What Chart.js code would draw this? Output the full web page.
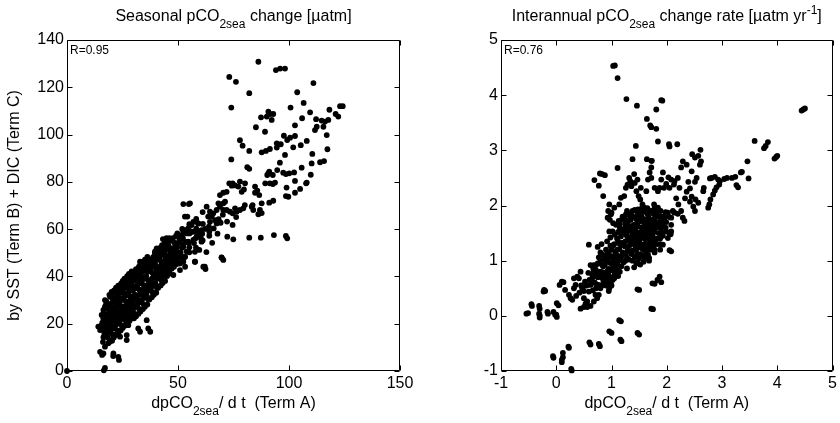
<!DOCTYPE html>
<html><head><meta charset="utf-8">
<script src="https://cdn.jsdelivr.net/npm/chart.js@4.4.1/dist/chart.umd.min.js"></script>
<style>
html,body{margin:0;padding:0;background:#fff;}
#wrap{position:relative;width:840px;height:423px;overflow:hidden;}
.c{position:absolute;top:0;width:420px;height:423px;}
</style></head><body>
<div id="wrap">
<div class="c" style="left:0"><canvas id="c1"></canvas></div>
<div class="c" style="left:420px"><canvas id="c2"></canvas></div>
</div>
<script>
// ---------- tick labels ----------
const seasonalXTicks = [0, 50, 100, 150];
const seasonalYTicks = [0, 20, 40, 60, 80, 100, 120, 140];
const interannualXTicks = [-1, 0, 1, 2, 3, 4, 5];
const interannualYTicks = [-1, 0, 1, 2, 3, 4, 5];

// ---------- texts ----------
const seasonalTitle = [["Seasonal pCO",""],["2sea","sub"],[" change [\u00b5atm]",""]];
const interannualTitle = [["Interannual pCO",""],["2sea","sub"],[" change rate [\u00b5atm yr",""],["-1","sup"],["]",""]];
const xAxisTitle = [["dpCO",""],["2sea","sub"],["/ d t  (Term A)",""]];
const seasonalYTitle = "by SST (Term B) + DIC (Term C)";
const seasonalR = "R=0.95";
const interannualR = "R=0.76";

// ---------- seasonal data [Term A, Term B + C] ----------
const seasonalPts = [
[86.2,130.8],[94.1,127.3],[96,127.9],[98.2,127.9],[73.1,124.4],[76.1,122.3],[111,121.8],[82.1,117.5],[103.7,117.9],[106.6,113.4],
[74,111.4],[100.7,111.4],[109.5,109.4],[118.2,110.5],[123,112],[124.2,112],[121,108.7],[122.2,107.6],[90.7,109.7],[91.4,108.7],
[92.9,108.7],[90,107.6],[92.2,106.2],[87.4,107.3],[105.9,106.9],[112.2,106.5],[114.7,105.9],[116.2,105.5],[117.7,106.2],[115.5,103.3],
[112.5,103.3],[111.7,101.9],[117,99.8],[85.1,103.1],[102.7,103.9],[89.2,101.2],[97.7,99.5],[100.5,98.7],[102.7,99.4],[99.2,97.7],
[77.9,97.6],[79.1,95.3],[82.1,93.1],[87.7,92.5],[89.6,93.1],[91.4,93.9],[94.5,94.5],[96.3,95.9],[94.5,96.3],[101.9,94.6],
[105.3,95.5],[108,97.3],[98.2,91.4],[110.5,91.8],[117.3,93.8],[74,89.5],[114,88.3],[115.8,88.8],[81.2,86.2],[82.1,85.5],
[95.9,88.1],[90.7,83.6],[90.2,82.9],[92.7,82.9],[91.1,84.3],[94.7,85],[93.7,79.7],[92.7,79.1],[91.4,79.4],[97.4,83.9],
[98.6,83.3],[100.1,83.6],[102.3,84],[105.7,86],[108,79.7],[109.8,83],[110.2,87.8],[89.3,79.4],[98.9,77.6],[98.6,74],
[99.7,73.7],[102.7,80.4],[105,77],[102.7,75.4],[107.7,79.4],[84.7,78],[84.7,75.4],[85.7,76.3],[86.6,74.4],[91.1,71.2],
[92.9,72],[87.7,70.9],[80.2,79.4],[77.9,80.1],[77.2,78],[74.6,79.4],[75.7,78.5],[78.7,75.8],[79.7,76.8],[73.1,79.4],
[74.2,78.4],[71.9,75.8],[70.4,75.4],[68.9,74.4],[83.2,69.5],[83.9,68.1],[86.2,66.3],[86.9,68.1],[87.7,66.8],[83.6,70.2],
[74.6,66.7],[73.4,67.4],[75.7,68.8],[77.9,68.1],[79.4,68.8],[76.4,67.4],[71.9,68.1],[70.4,68.1],[68.2,70.9],[68.9,69.5],
[70.4,70.9],[71.2,71.6],[67.4,68.1],[62.9,69.5],[64.4,67.4],[63.6,65.3],[74.6,61.8],[64.1,58.9],[64.4,63.1],[66.7,63.8],
[67.4,62.4],[69.2,62.7],[65.9,66.7],[65.2,65.3],[72.2,56.8],[74.9,55.7],[82.1,56.4],[87.3,56.4],[93.2,57.5],[98.6,57.1],
[99.2,56.1],[55.4,70.9],[56.9,63.1],[59.1,62.4],[58.4,59.6],[56.2,58.9],[59.9,58.2],[70.4,47],[62.4,43.1],
[54.2,65.3],[53.2,59.6],[54.6,59.6],[52.4,58.9],[56.2,58.9],[53.9,58.2],[51.7,57.5],[50.1,57.1],[48.6,54],[50.9,54.7],
[52.4,53.3],[49.4,51.9],[47.2,51.9],[46.4,51.2],[44.9,52.6],[43.4,52.6],[41.9,51.9],[40.4,51.2],[39.6,50.5],[41.9,49.8],
[44.1,50.5],[53.2,48.3],[52.4,46.2],[50.9,45.5],[49.4,46.9],[47.9,46.9],[46.4,45.5],[44.9,44.8],[43.4,44.1],[41.9,44.1],
[40.4,42.7],[38.9,41.3],[53.2,44.1],[50.9,42.7],[47.9,40.6],[53.9,50.5],[57.7,46.2],[61.4,44.1],[69.7,47.9],[59.6,51.2],
[59.9,57.5],[52.4,70.6],[54.9,70.6],
[53.1,65.3],[54.6,60.3],[57.6,58.9],[56.1,61.7],[59.1,62.4],[60.6,59.6],[58.4,56.8],[56.9,55.4],[60.6,54.7],[54.6,54.7],
[52.4,52.6],[50.1,56.8],[49.4,54],[47.9,51.2],[48.6,49],[46.4,51.2],[44.1,46.9],[45.6,44.1],[42.6,45.5],[41.1,47.6],
[39.6,49.7],[40.4,51.9],[38.1,45.5],[35.1,45.5],[32.9,46.2],[33.6,43.4],[36.6,42.7],[31.4,40.6],[32.1,38.5],[29.1,39.9],
[27.6,38.5],[26.1,35.7],[28.4,36.3],[23.1,34.2],[20.1,33.5],[19.4,31.4],[21.6,30.7],[23.9,30],[17.1,30],[18.6,27.2],
[16.4,25.8],[15.6,23.7],[14.1,18.8],[14.9,17.3],[17.1,16.6],[19.4,16.6],[20.9,18.8],[23.1,21.5],[24.6,23],[26.1,25.8],
[29.1,27.2],[30.6,31.4],[33.6,34.2],[35.9,35.6],[38.1,38.5],[40.4,40.6],[42.6,39.9],[44.9,42],[47.1,44.1],[50.1,45.5],
[52.4,47.6],[57.6,46.2],[62.1,44.1],[69.6,48.1],[35.9,21.5],[36.6,18],[32.1,18],[27.6,19.4],[26.9,15.2],[26.9,13.1],
[23.9,14.5],[21.6,15.2],[20.1,13.1],[18.6,11.7],[17.1,10.3],[14.9,8.1],[16.4,7.4],[20.9,7.4],[23.1,6],[17.1,1.3],
[57.6,50.4],[53.1,48.3],[48.6,46.2],[39.6,36.4],[35.1,31.4],[32.1,30],[29.9,24.4],[26.9,22.3],[28.4,30],[26.1,32.1],
[23.9,27.2],[21.6,24.4],[19.4,22.3],[17.9,20.8],[15.6,19.4],[20.1,23.7],
[0,0],[16.6,0.3],[15.8,6.8],[20.8,6.3],[23.4,4.7],[37.5,16.6],[32.9,16.6],
[16.2,12.3],[16.8,16.1],[15.9,20.4],[16.5,24.2],[18.3,14.2],[17.8,18.3],[18.4,22.1],[18.1,26.3],[17.7,29.4],
[20.3,12.8],[19.8,17.2],[20.4,21.1],[19.7,25.3],[20.2,28.8],[20.6,33.1],[22.1,15.3],[21.8,19.2],[22.3,23.4],[21.9,27.1],
[22.4,31.2],[22.1,35.3],[24.2,17.1],[23.8,21.3],[24.3,25.1],[23.7,29.4],[24.1,33.2],[24.4,37.1],[26.2,19.2],[25.8,23.3],
[26.3,27.2],[25.7,31.1],[26.2,35.2],[25.9,39.1],[28.1,21.2],[27.8,25.3],[28.3,29.1],[27.7,33.2],[28.2,37.3],[27.9,41.1],
[30.2,22.3],[29.8,26.1],[30.3,30.2],[29.7,34.1],[30.1,38.2],[30.4,42.1],[32.2,24.2],[31.8,28.3],[32.3,32.1],[31.7,36.2],
[32.1,40.3],[32.4,44.1],[34.2,26.2],[33.8,30.1],[34.3,34.2],[33.7,38.1],[34.1,42.2],[34.4,46.1],[36.2,28.1],[35.8,32.2],
[36.3,36.1],[35.7,40.2],[36.1,44.1],[38.2,31.2],[37.8,35.1],[38.3,39.2],[37.7,43.1],[38.1,47.2],[40.2,33.1],[39.8,37.2],
[40.3,41.1],[39.7,45.2],[40.1,49.1],[42.2,36.2],[41.8,40.1],[42.3,44.2],[41.7,48.1],[42.1,52.2],[44.2,38.1],[43.8,42.2],
[44.3,46.1],[43.7,50.2],[44.1,54.1],[46.2,41.2],[45.8,45.1],[46.3,49.2],[45.7,53.1],[48.2,44.1],[47.8,48.2],[48.3,52.1],
[47.7,56.2],[50.2,46.1],[49.8,50.2],[50.3,54.1],[49.7,58.2],[55.1,52.3],[57.2,54.1],[60.3,56.2],[62.2,60.1],[66.1,60.3],
[68.3,64.2],[72.1,63.2],[70.2,66.1],[76.2,65.1],[80.1,70.2],[58.2,64.3],[61.1,67.2],[46.1,56.2],[43.2,55.8],[36.2,48.3],
[17.2,15.1],[16.9,19.2],[17.3,23.1],[17.1,27.2],[19.1,12.3],[19.2,20.1],[18.9,24.2],[19.3,28.1],[19.1,32.2],
[21.1,14.2],[20.9,18.1],[21.2,22.2],[21.1,26.1],[20.8,30.2],[21.2,34.1],[23.1,16.2],[22.9,20.1],[23.2,24.2],[23.1,28.1],
[22.8,32.2],[23.1,36.1],[25.1,18.2],[24.9,22.1],[25.2,26.2],[25.1,30.1],[24.8,34.2],[25.1,38.1],[27.1,20.2],[26.9,24.1],
[27.2,28.2],[27.1,32.1],[26.8,36.2],[27.1,40.1],[29.1,22.2],[28.9,26.1],[29.2,30.2],[29.1,34.1],[28.8,38.2],[29.1,42.1],
[31.1,23.2],[30.9,27.1],[31.2,31.2],[31.1,35.1],[30.8,39.2],[31.1,43.1],[33.1,25.2],[32.9,29.1],[33.2,33.2],[33.1,37.1],
[32.8,41.2],[33.1,45.1],[35.1,27.2],[34.9,31.1],[35.2,35.2],[35.1,39.1],[34.8,43.2],[35.1,47.1],[37.1,30.2],[36.9,34.1],
[37.2,38.2],[37.1,42.1],[36.8,46.2],[39.1,32.2],[38.9,36.1],[39.2,40.2],[39.1,44.1],[38.8,48.2],[41.1,35.2],[40.9,39.1],
[41.2,43.2],[41.1,47.1],[40.8,51.2],[43.1,37.2],[42.9,41.1],[43.2,45.2],[43.1,49.1],[42.8,53.2],[45.1,40.2],[44.9,44.1],
[45.2,48.2],[45.1,52.1],[44.8,56.2],[47.1,43.2],[46.9,47.1],[47.2,51.2],[47.1,55.1],[49.1,45.2],[48.9,49.1],[49.2,53.2],
[49.1,57.1],[52.1,48.2],[51.9,52.1],[52.2,56.2],[51.9,60.1],[55.1,50.2],[54.9,54.1],[55.2,58.2],[55.1,62.1],[58.1,52.2],
[57.9,56.1],[58.2,60.2],[61.1,55.2],[60.9,58.1],[61.2,62.2],[64.1,57.2],[63.9,61.1],[62.8,50.3],[65.4,54.2],[67.8,58.1],
[16.4,14.3],[15.7,18.2],[16.3,22.4],[18.6,16.3],[18.2,20.6],[18.7,24.3],[17.6,28.2],[20.5,15.4],[19.6,19.3],[20.7,23.2],
[19.5,27.4],[20.4,31.1],[22.6,17.2],[21.7,21.4],[22.5,25.3],[21.6,29.2],[22.7,33.4],[24.5,19.3],[23.6,23.1],[24.6,27.4],
[23.5,31.2],[24.7,35.3],[26.5,21.2],[25.6,25.4],[26.6,29.3],[25.5,33.1],[26.4,37.4],[28.5,23.1],[27.5,27.3],[28.6,31.4],
[27.6,35.2],[28.4,39.3],[30.5,24.2],[29.6,28.4],[30.6,32.3],[29.5,36.1],[30.7,40.4],[32.5,26.3],[31.5,30.2],[32.6,34.4],
[31.6,38.1],[32.7,42.3],[34.5,28.2],[33.6,32.4],[34.6,36.3],[33.5,40.1],[34.7,44.2],[36.5,30.4],[35.6,34.2],[36.6,38.3],
[35.5,42.4],[36.7,46.1],[38.5,33.3],[37.6,37.2],[38.6,41.4],[37.5,45.3],[40.5,35.2],[39.6,39.4],[40.6,43.3],[39.5,47.2],
[42.5,38.4],[41.6,42.3],[42.6,46.2],[41.5,50.4],[44.5,40.3],[43.6,44.2],[44.6,48.4],[43.5,52.3],[46.5,43.2],[45.6,47.4],
[46.6,51.3],[45.5,55.2],[48.5,46.4],[47.6,50.3],[48.6,54.2],[50.5,48.2],[49.6,52.4],[50.6,56.3],[51.2,50.1],[53.4,54.6]
];

// ---------- interannual data [Term A, Term B + C] ----------
const interannualPts = [
[1.03,4.53],[1.06,4.54],[1.11,4.31],[1.27,3.93],[1.46,3.81],[1.9,3.91],[1.92,3.9],[1.81,3.74],[1.64,3.57],[1.7,3.45],
[1.72,3.42],[1.81,3.39],[1.44,3.08],[1.84,3.16],[2.04,3.11],[2.05,3.07],[2.19,3.11],[2.61,3.01],[3.59,3.17],[3.83,3.15],
[3.76,3.04],[3.79,3.08],[3.95,2.85],[3.98,2.88],[4.0,2.9],[4.44,3.72],[4.47,3.74],[4.5,3.76],[3.46,2.8],[3.34,2.6],
[3.36,2.61],[3.48,2.49],[3.24,2.52],[3.18,2.5],[3.09,2.5],[3.26,2.37],[3.29,2.33],[3.04,2.48],
[2.87,2.52],[2.81,2.5],[2.78,2.49],[2.93,2.47],[2.96,2.44],[2.95,2.38],[2.9,2.33],[2.87,2.27],[2.84,2.2],[2.79,2.11],
[2.77,2.02],[2.75,1.96],[2.66,2.26],[2.67,2.32],
[2.54,2.5],[2.51,2.43],[2.42,2.31],[2.36,2.25],[2.45,2.62],[2.6,2.74],[2.62,2.8],[2.51,2.87],[2.46,2.93],[2.57,2.9],
[2.36,2.74],[2.29,2.8],[2.26,2.69],[2.39,2.43],[2.45,2.16],[2.33,2.13],[2.42,2.07],[2.48,1.98],[2.51,1.9],[2.52,2.11],[2.57,2.05],
[2.03,2.51],[2.08,2.47],[2.14,2.44],[2.2,2.5],[2.13,2.38],[2.05,2.32],[1.99,2.39],[1.95,2.32],[2.23,2.32],[2.17,2.13],
[2.21,2.02],[2.26,1.9],[2.29,1.78],[2.32,1.72],[2.11,1.9],[2.2,1.85],[2.08,1.78],[2.02,1.87],[2.05,1.79],[2.08,1.53],
[2.05,1.48],[2.08,1.17],
[0.69,2.46],[0.77,2.36],[0.79,2.58],[0.83,2.57],[0.88,2.55],[0.85,2.17],[0.96,2.02],[0.94,1.9],[0.99,1.84],[1.03,1.68],
[1.0,1.87],[1.11,2.68],[1.14,2.02],[1.17,2.14],[1.23,2.17],[1.26,2.32],[1.29,2.38],[1.32,2.5],[1.34,2.44],[1.36,2.35],
[1.41,2.57],[1.42,2.41],[1.45,2.26],[1.49,2.17],[1.52,2.11],[1.56,2.02],[1.59,1.96],[1.63,2.26],[1.66,2.47],[1.69,2.6],
[1.72,2.5],[1.72,2.69],[1.73,2.81],[1.78,2.32],[1.77,2.02],[1.81,1.87],[1.84,1.96],[1.84,2.26],[1.87,2.32],[1.9,2.47],
[1.93,2.6],[1.53,2.32],[1.47,2.47],[1.38,2.84],[1.64,2.84],[1.72,2.81],
[-0.54,0.04],[-0.51,0.05],[-0.44,0.18],[-0.3,0.01],[-0.3,-0.03],[-0.3,0.13],[-0.23,0.44],[-0.2,0.45],[-0.15,0.04],[-0.02,0.02],
[0.01,-0.02],[0.04,0.19],[0.06,0.56],[0.1,0.62],[0.13,0.61],[0.16,0.47],[0.23,0.38],[0.26,0.32],[0.29,0.29],[0.32,0.5],
[0.35,0.56],[0.32,0.68],[0.38,0.71],[0.41,0.68],[0.44,0.8],[0.47,0.5],[0.5,0.32],[0.53,0.22],[0.56,0.26],[0.59,0.44],
[0.62,0.56],[0.65,0.68],[0.68,0.8],[0.44,0.13],[0.5,0.16],[0.56,0.16],[0.62,0.18],[0.68,0.26],[0.74,0.32],[0.77,0.38],
[0.8,0.5],[0.83,0.56],[0.86,0.62],[0.89,0.68],[0.93,0.8],[0.96,0.5],[0.99,0.56],[1.05,0.68],[1.08,0.8],[1.11,0.92],
[0.74,0.56],[0.71,0.38],[0.8,0.71],[0.62,0.92],[0.59,1.29],[0.68,0.92],
[-0.05,-0.76],[0.12,-0.75],[0.1,-0.84],[0.23,-0.58],[0.28,-0.99],[0.62,-0.52],[0.79,-0.55],[1.0,-0.31],[1.17,-0.1],[1.18,-0.46],
[1.5,-0.34],[1.5,0.47],[1.75,0.12],[1.78,0.58],[1.87,0.71],[1.9,0.61],[2.05,1.19],[2.07,1.48],
[-0.45,0.21],[-0.31,0.18],[-0.31,0.04],[-0.16,0.07],[-0.05,0.07],[0.0,0.02],[-0.22,0.47],[0.01,0.23],[1.47,0.48],[1.72,0.13],
[1.74,0.59],[1.83,0.65],[1.14,-0.08],[0.96,-0.28],[1.16,-0.43],[1.47,-0.31],[0.6,-0.48],[0.77,-0.51],[0.22,-0.56],[0.12,-0.67],
[-0.06,-0.73],[0.1,-0.8],[0.27,-0.96],
[0.96,1.53],[0.93,1.78],[0.97,1.74],[1.02,1.53],[1.08,1.65],[1.05,1.96],[2.08,1.65],[2.14,1.87],[1.99,1.53],[1.95,1.78],
[2.02,1.41],[1.93,1.29],[1.9,1.53],
[1.2,1.5],[1.25,1.6],[1.3,1.4],[1.3,1.7],[1.35,1.55],[1.35,1.85],[1.4,1.3],[1.4,1.45],[1.4,1.65],[1.45,1.75],
[1.45,1.2],[1.5,1.5],[1.5,1.35],[1.5,1.85],[1.55,1.6],[1.55,1.1],[1.6,1.4],[1.6,1.75],[1.6,1.25],[1.65,1.55],
[1.65,1.85],[1.7,1.45],[1.7,1.65],[1.7,1.2],[1.75,1.75],[1.75,1.35],[1.8,1.6],[1.8,1.85],[1.85,1.7],[1.9,1.8],
[1.15,1.3],[1.2,1.15],[1.25,1.0],[1.3,1.2],[1.1,1.1],[1.1,1.4],[1.15,1.6],[1.2,1.8],[1.25,1.35],[1.28,1.9],
[1.38,1.0],[1.45,0.95],[1.5,1.05],[1.58,0.98],[1.62,1.05],[1.68,1.0],[1.72,1.9],[1.8,1.4],[1.85,1.5],[1.9,1.6],
[1.95,1.75],[1.55,1.95],[1.42,1.92],[1.65,1.95],[1.78,1.95],[1.48,1.62],[1.52,1.72],[1.58,1.48],[1.62,1.62],[1.68,1.72],
[1.72,1.55],[1.38,1.5],[1.33,1.28],[1.43,1.38],[1.53,1.28],[1.63,1.32],[1.73,1.38],[1.83,1.3],[1.88,1.4],[1.78,1.15],
[1.88,1.2],[1.93,1.45],
[0.6,0.65],[0.65,0.75],[0.7,0.6],[0.7,0.85],[0.75,0.7],[0.75,0.95],[0.8,0.8],[0.8,1.0],[0.85,0.65],[0.85,0.9],
[0.9,0.75],[0.9,1.05],[0.95,0.85],[0.95,1.15],[1.0,0.7],[1.0,0.95],[1.0,1.2],[1.05,0.85],[1.05,1.05],[1.05,1.3],
[1.1,0.95],[1.1,1.2],[1.15,0.8],[1.15,1.05],[0.9,1.2],[0.85,1.1],[0.8,1.15],[0.75,1.25],[1.0,0.55],[0.95,0.45],
[0.9,0.55],[0.55,0.55],[0.5,0.45],[0.45,0.55],
[0.91,0.7],[0.88,0.92],[0.93,1.12],[0.98,1.27],[1.02,0.82],[1.03,1.02],[1.12,1.52],[1.13,1.72],[1.22,0.97],[1.23,1.57],
[1.24,1.77],[1.32,1.02],[1.32,1.62],[1.33,1.82],[1.42,1.07],[1.43,1.27],[1.43,1.57],[1.47,1.87],[1.52,1.12],[1.53,1.52],
[1.57,1.72],[1.57,1.88],[1.62,1.17],[1.63,1.57],[1.67,1.37],[1.67,1.8],[1.72,1.28],[1.73,1.62],[1.77,1.52],[1.78,1.72],
[1.82,1.67],[1.83,1.82],[1.87,1.62],[1.92,1.67],[1.97,1.82],
[1.16,1.01],[1.14,1.21],[1.17,1.44],[1.15,1.66],[1.26,1.11],[1.24,1.26],[1.27,1.46],[1.25,1.67],[1.26,1.84],[1.36,1.12],
[1.34,1.36],[1.37,1.46],[1.35,1.74],[1.46,1.11],[1.44,1.31],[1.47,1.51],[1.45,1.66],[1.46,1.79],[1.56,1.21],[1.54,1.41],
[1.57,1.56],[1.55,1.79],[1.66,1.11],[1.64,1.26],[1.67,1.46],[1.65,1.66],[1.66,1.76],[1.76,1.26],[1.74,1.46],[1.77,1.66],
[1.75,1.86],[1.86,1.41],[1.84,1.61],[1.87,1.79],[1.52,0.93],[1.41,0.88],[1.28,0.86],
[0.66,0.46],[0.64,0.61],[0.67,0.86],[0.76,0.56],[0.74,0.81],[0.77,1.06],[0.86,0.56],[0.84,0.79],[0.87,1.01],[0.96,0.61],
[0.94,0.76],[0.97,0.96],[0.95,1.06],[1.06,0.76],[1.04,0.96],[1.07,1.16],[1.12,0.72],[1.18,0.9],[1.2,1.28],[0.58,0.78],
[0.52,0.62],[0.42,0.42],[0.36,0.36],[0.98,1.42],[1.06,1.47],[0.92,1.35],[0.82,1.3],
[1.18,1.08],[1.19,1.32],[1.17,1.55],[1.18,1.74],[1.28,1.05],[1.29,1.18],[1.28,1.52],[1.29,1.72],[1.38,1.18],[1.39,1.38],
[1.38,1.58],[1.39,1.8],[1.38,1.9],[1.48,1.02],[1.49,1.24],[1.48,1.44],[1.49,1.7],[1.48,1.93],[1.58,1.08],[1.59,1.3],
[1.58,1.52],[1.59,1.68],[1.58,1.9],[1.68,1.05],[1.69,1.3],[1.68,1.5],[1.69,1.6],[1.68,1.9],[1.78,1.2],[1.79,1.34],
[1.78,1.56],[1.79,1.8],[1.88,1.3],[1.89,1.5],[1.88,1.7],[1.89,1.9],[1.98,1.6],[1.99,1.7],[1.98,1.88],
[0.82,0.7],[0.83,0.92],[0.82,1.12],[0.92,0.65],[0.93,0.82],[0.92,1.0],[0.93,1.17],[1.02,0.65],[1.03,0.88],[1.02,1.08],
[1.03,1.28],[1.12,0.82],[1.13,1.02],[1.12,1.35],[0.72,0.5],[0.73,0.72],[0.72,0.92]
];

// ---------- helpers ----------
const FONT = "'Liberation Sans', Arial, Helvetica, sans-serif";

function drawRich(ctx, segs, cx, baseY, size) {
  const parts = segs.map(([t, m]) => {
    const fs = m ? Math.round(size * 0.72) : size;
    ctx.font = fs + "px " + FONT;
    return { t, m, fs, w: ctx.measureText(t).width };
  });
  const total = parts.reduce((s, p) => s + p.w, 0);
  let x = cx - total / 2;
  ctx.textAlign = "left";
  ctx.textBaseline = "alphabetic";
  ctx.fillStyle = "#000";
  parts.forEach(p => {
    ctx.font = p.fs + "px " + FONT;
    const dy = p.m === "sub" ? size * 0.42 : p.m === "sup" ? -size * 0.42 : 0;
    ctx.fillText(p.t, x, baseY + dy);
    x += p.w;
  });
}

const framePlugin = {
  id: "frame",
  afterDatasetsDraw(chart) {
    const { ctx, chartArea: a, scales: { x, y } } = chart;
    const o = chart.options.plugins.frame;
    ctx.save();
    ctx.strokeStyle = "#000";
    ctx.lineWidth = 1;
    const L = Math.round(a.left) + 0.5, R = Math.round(a.right) - 0.5;
    const T = Math.round(a.top) + 0.5, B = Math.round(a.bottom) - 0.5;
    ctx.beginPath();
    ctx.rect(L, T, R - L, B - T);
    const tl = 5;
    x.ticks.forEach(t => {
      const p = Math.round(x.getPixelForValue(t.value)) + 0.5;
      ctx.moveTo(p, B); ctx.lineTo(p, B - tl);
      ctx.moveTo(p, T); ctx.lineTo(p, T + tl);
    });
    y.ticks.forEach(t => {
      const p = Math.round(y.getPixelForValue(t.value)) + 0.5;
      ctx.moveTo(L, p); ctx.lineTo(L + tl, p);
      ctx.moveTo(R, p); ctx.lineTo(R - tl, p);
    });
    ctx.stroke();
    // texts
    const cx = (a.left + a.right) / 2;
    drawRich(ctx, o.title, cx, 21, 16);
    drawRich(ctx, o.xTitle, cx, 408, 16);
    ctx.font = "12px " + FONT;
    ctx.textAlign = "left";
    ctx.textBaseline = "middle";
    ctx.fillStyle = "#000";
    ctx.fillText(o.r, a.left + 3, a.top + 11);
    if (o.yTitle) {
      ctx.save();
      ctx.translate(o.yTitleX, (a.top + a.bottom) / 2);
      ctx.rotate(-Math.PI / 2);
      ctx.font = "16px " + FONT;
      ctx.textAlign = "center";
      ctx.textBaseline = "middle";
      ctx.fillText(o.yTitle, 0, 0);
      ctx.restore();
    }
    ctx.restore();
  }
};

function makeChart(id, pts, xt, yt, yWidth, padRight, frameOpts) {
  return new Chart(document.getElementById(id), {
    type: "scatter",
    data: {
      datasets: [{
        data: pts.map(([px, py]) => ({ x: px, y: py })),
        pointRadius: 2.9,
        pointHoverRadius: 2.9,
        pointBackgroundColor: "#000",
        pointBorderWidth: 0,
        showLine: false,
        clip: false
      }]
    },
    options: {
      responsive: true,
      maintainAspectRatio: false,
      animation: false,
      events: [],
      devicePixelRatio: 1,
      layout: { padding: { top: 40, right: padRight, left: 0, bottom: 0 } },
      plugins: { legend: { display: false }, tooltip: { enabled: false }, frame: frameOpts },
      scales: {
        x: {
          type: "linear",
          min: xt[0], max: xt[xt.length - 1],
          afterBuildTicks: s => { s.ticks = xt.map(v => ({ value: v })); },
          afterFit: s => { s.height = 52; },
          grid: { display: false, drawTicks: false },
          border: { display: false },
          ticks: { color: "#000", padding: 3, maxRotation: 0, font: { family: FONT, size: 16 }, callback: v => String(v) }
        },
        y: {
          type: "linear",
          min: yt[0], max: yt[yt.length - 1],
          afterBuildTicks: s => { s.ticks = yt.map(v => ({ value: v })); },
          afterFit: s => { s.width = yWidth; },
          grid: { display: false, drawTicks: false },
          border: { display: false },
          ticks: { color: "#000", padding: 3, font: { family: FONT, size: 16 }, callback: v => String(v) }
        }
      }
    },
    plugins: [framePlugin]
  });
}

makeChart("c1", seasonalPts, seasonalXTicks, seasonalYTicks, 67, 20,
  { title: seasonalTitle, xTitle: xAxisTitle, r: seasonalR, yTitle: seasonalYTitle, yTitleX: 15 });
makeChart("c2", interannualPts, interannualXTicks, interannualYTicks, 81, 6,
  { title: interannualTitle, xTitle: xAxisTitle, r: interannualR });
</script>
</body></html>
